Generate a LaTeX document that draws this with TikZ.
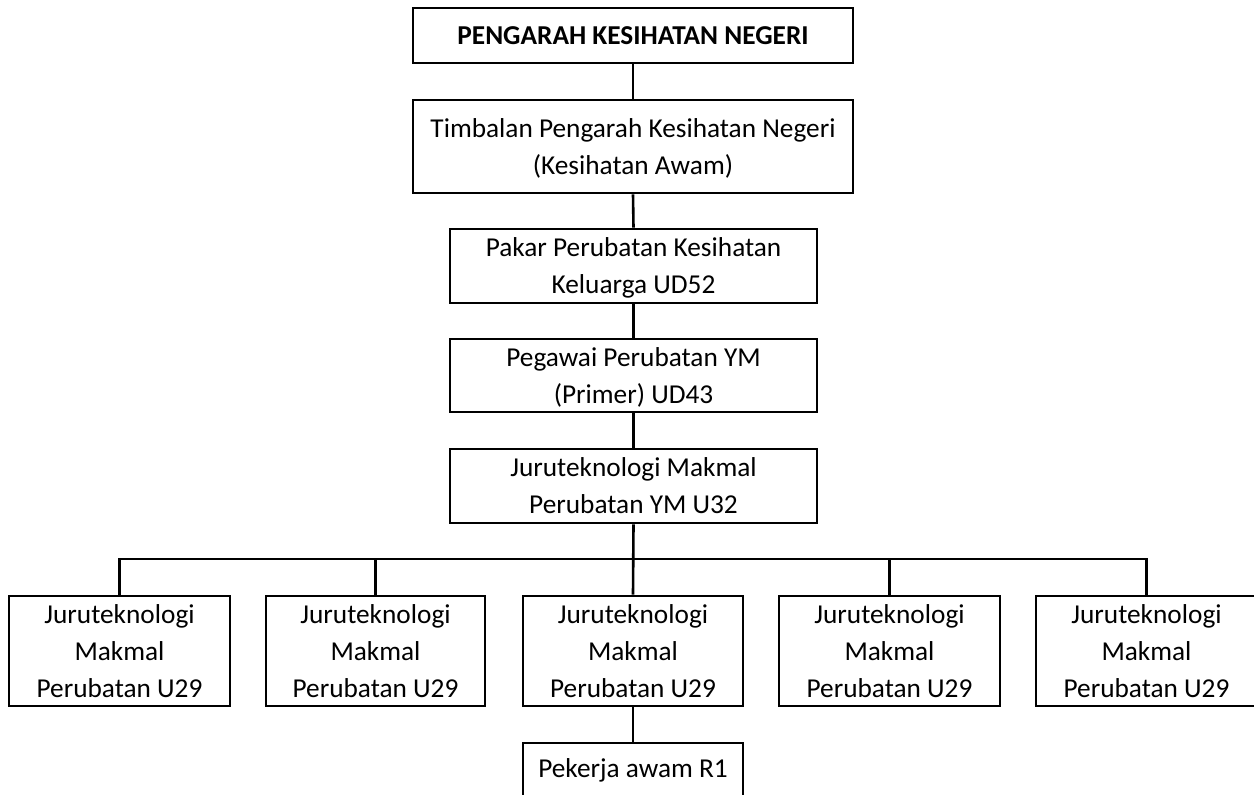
\documentclass[tikz,border=0pt]{standalone}
\usepackage{fontspec}
\setmainfont{Carlito}
\begin{document}
\begin{tikzpicture}[x=1pt,y=-1pt,
  box/.style={draw=black, line width=2.6pt, inner sep=0pt, align=center,
    font=\fontsize{27.3}{37}\selectfont},
  twoline/.style={box, text depth=-3pt},
  link/.style={draw=black, line width=2.6pt}]
\useasboundingbox (0,0) rectangle (1254,795);
\fill[white] (0,0) rectangle (1254,795);
% top levels
\node[box, minimum width=440, minimum height=55, font=\fontsize{27.3}{37}\selectfont\bfseries] (pkn) at (633,35.5) {PENGARAH KESIHATAN NEGERI};
\node[twoline, minimum width=440, minimum height=93] (tpkn) at (633,146.5) {Timbalan Pengarah Kesihatan Negeri\\(Kesihatan Awam)};
\node[twoline, minimum width=367, minimum height=74] (pakar) at (633.5,266) {Pakar Perubatan Kesihatan\\Keluarga UD52};
\node[twoline, minimum width=367, minimum height=73] (pegawai) at (633.5,375.5) {Pegawai Perubatan YM\\(Primer) UD43};
\node[twoline, minimum width=367, minimum height=74] (ym) at (633.5,486) {Juruteknologi Makmal\\Perubatan YM U32};
% bottom row
\node[box, minimum width=221, minimum height=110] (b1) at (119.5,651) {Juruteknologi\\Makmal\\Perubatan U29};
\node[box, minimum width=219, minimum height=110] (b2) at (375.5,651) {Juruteknologi\\Makmal\\Perubatan U29};
\node[box, minimum width=220, minimum height=110] (b3) at (633,651) {Juruteknologi\\Makmal\\Perubatan U29};
\node[box, minimum width=221, minimum height=110] (b4) at (889.5,651) {Juruteknologi\\Makmal\\Perubatan U29};
\node[box, minimum width=221, minimum height=110] (b5) at (1146.5,651) {Juruteknologi\\Makmal\\Perubatan U29};
\node[box, minimum width=220, minimum height=55] (pk) at (633,770.5) {Pekerja awam R1};
% bus
\coordinate (busL) at (b1.north |- 0,559);
\coordinate (busR) at (b5.north |- 0,559);
% connectors
\draw[link] (pkn.south) -- (tpkn.north);
\draw[link] (tpkn.south) -- (pakar.north);
\draw[link] (pakar.south) -- (pegawai.north);
\draw[link] (pegawai.south) -- (ym.north);
\draw[link] (ym.south) -- (b3.north);
\draw[link, line join=miter] (b1.north) -- (busL) -- (busR) -- (b5.north);
\draw[link] (b2.north) -- (b2.north |- busL);
\draw[link] (b4.north) -- (b4.north |- busL);
\draw[link] (b3.south) -- (pk.north);
\end{tikzpicture}
\end{document}
